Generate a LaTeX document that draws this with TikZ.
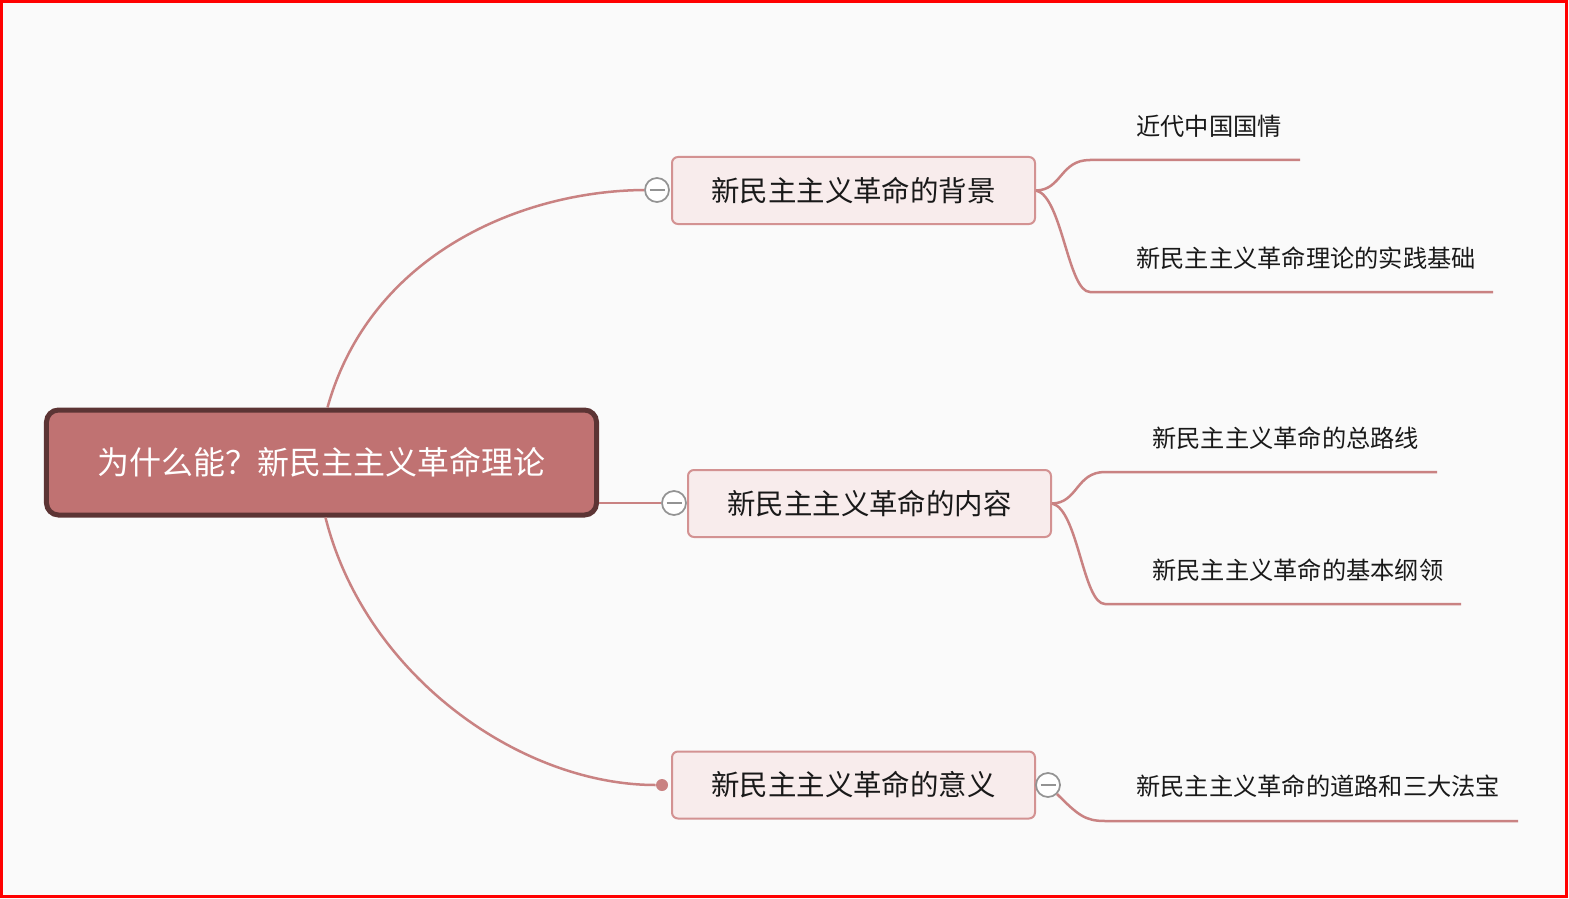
\documentclass[tikz,border=0pt]{standalone}
\usepackage{fontspec}
\newfontfamily\cjk{Noto Sans CJK SC}
\usetikzlibrary{positioning, calc}
\definecolor{rootfill}{HTML}{C07272}
\definecolor{rootedge}{HTML}{5C3434}
\definecolor{topicfill}{HTML}{F8ECEC}
\definecolor{topicedge}{HTML}{D39292}
\definecolor{branchline}{HTML}{C98282}
\definecolor{paper}{HTML}{FAFAFA}
\tikzset{
  rootnode/.style={rectangle, draw=rootedge, fill=rootfill, line width=1mm,
                   rounded corners=2.4mm, minimum width=110mm, minimum height=21mm,
                   text=white, font=\cjk\fontsize{18.2}{20}\selectfont},
  topicnode/.style={rectangle, draw=topicedge, fill=topicfill, line width=0.4mm,
                    rounded corners=1.2mm, minimum width=72.6mm, minimum height=13.4mm,
                    text=black!90, font=\cjk\fontsize{16.2}{18}\selectfont},
  leafnode/.style={anchor=west, inner sep=0pt, text=black!90,
                   font=\cjk\fontsize{13.8}{16}\selectfont},
  branch/.style={draw=branchline, line width=0.5mm},
  foldmark/.style={circle, draw=gray!85, fill=white, line width=0.35mm,
                   minimum size=4.8mm, inner sep=0pt,
                   path picture={\draw[gray!85, line width=0.35mm]
                     ($(path picture bounding box.west)+(0.9mm,0)$) --
                     ($(path picture bounding box.east)+(-0.9mm,0)$);}},
  enddot/.style={circle, fill=branchline, minimum size=2.4mm, inner sep=0pt},
}
\begin{document}
\begin{tikzpicture}[x=0.2mm, y=-0.2mm]
  % --- Frame ---
  \useasboundingbox (0,0) rectangle (1569,899);
  \fill[paper] (0,0) rectangle (1569,899);
  \draw[red, line width=0.6mm] (1.5,1.5) rectangle (1566,896);

  % --- Root ---
  \node[rootnode] (root) at (321.5,462.5) {为什么能？新民主主义革命理论};

  % --- Main topics ---
  \node[topicnode] (bg)  at (853.5,190.5) {新民主主义革命的背景};
  \node[topicnode] (ct)  at (869.5,503.5) {新民主主义革命的内容};
  \node[topicnode] (sig) at (853.5,785)   {新民主主义革命的意义};

  % --- Fold marks ---
  \node[foldmark] (f1) at (657,190) {};
  \node[foldmark] (f2) at (674,503) {};
  \node[foldmark] (f3) at (1048,785) {};
  \node[enddot]   (d3) at (662,785) {};

  % --- Root branches ---
  \draw[branch] ($(root.north)+(6,0)$) .. controls (370,255) and (520,191) .. (f1.west);
  \draw[branch] (root.east |- f2) -- (f2.west);
  \draw[branch] ($(root.south)+(4,0)$) .. controls (365,675) and (520,785) .. (d3);

  % --- Subtopics ---
  \node[leafnode] (bg1)  at (1136,126) {近代中国国情};
  \node[leafnode] (bg2)  at (1136,258) {新民主主义革命理论的实践基础};
  \node[leafnode] (ct1)  at (1152,438) {新民主主义革命的总路线};
  \node[leafnode] (ct2)  at (1152,570) {新民主主义革命的基本纲领};
  \node[leafnode] (sig1) at (1136,786) {新民主主义革命的道路和三大法宝};

  \coordinate (u1) at (1090,160);  \coordinate (e1) at (1300,160);
  \coordinate (u2) at (1090,292);  \coordinate (e2) at (1493,292);
  \coordinate (u3) at (1105,472);  \coordinate (e3) at (1437,472);
  \coordinate (u4) at (1105,604);  \coordinate (e4) at (1461,604);
  \coordinate (u5) at (1105,821);  \coordinate (e5) at (1518,821);

  % --- Subtopic branches ---
  \draw[branch] (bg.east) .. controls (1062,190) and (1060,160) .. (u1) -- (e1);
  \draw[branch] (bg.east) .. controls (1062,196) and (1068,292) .. (u2) -- (e2);
  \draw[branch] (ct.east) .. controls (1078,503) and (1076,472) .. (u3) -- (e3);
  \draw[branch] (ct.east) .. controls (1078,509) and (1083,604) .. (u4) -- (e4);
  \draw[branch] (f3.south east) .. controls (1078,815) and (1085,821) .. (u5) -- (e5);
\end{tikzpicture}
\end{document}
